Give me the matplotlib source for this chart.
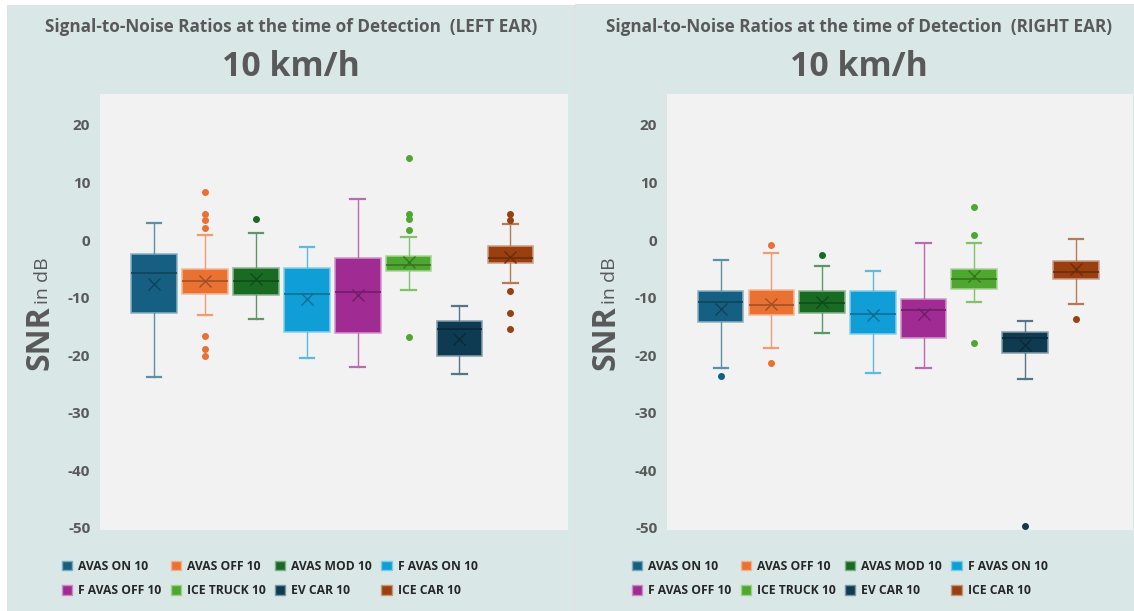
import matplotlib
matplotlib.use('Agg')
import matplotlib.pyplot as plt
import matplotlib.colors as mcolors
from matplotlib.patches import Rectangle, Patch

W, H = 1134, 611

series = ['AVAS ON 10', 'AVAS OFF 10', 'AVAS MOD 10', 'F AVAS ON 10',
          'F AVAS OFF 10', 'ICE TRUCK 10', 'EV CAR 10', 'ICE CAR 10']
colors = ['#156082', '#E97132', '#196B24', '#0F9ED5',
          '#A02B93', '#4EA72E', '#0E3A52', '#9A3F10']
yticks = [20, 10, 0, -10, -20, -30, -40, -50]

# left ear (dB)
left_whislo = [-23.7, -13.0, -13.7, -20.4, -22.1, -8.6, -23.3, -7.5]
left_q1 = [-12.6, -9.4, -9.5, -15.9, -16.2, -5.3, -20.1, -4.0]
left_med = [-5.8, -7.1, -7.1, -9.3, -9.0, -4.4, -15.5, -3.2]
left_q3 = [-2.4, -5.1, -4.8, -4.9, -3.1, -2.7, -14.0, -1.0]
left_whishi = [3.0, 0.9, 1.2, -1.3, 7.2, 0.6, -11.5, 2.7]
left_mean = [-7.7, -7.1, -6.8, -10.3, -9.5, -3.8, -17.2, -3.0]
left_fliers = [[], [8.3, 4.6, 3.4, 2.1, -16.7, -19.0, -20.2], [3.6], [], [],
               [14.3, 4.5, 3.6, 1.7, -16.9], [], [4.5, 3.5, -8.8, -12.7, -15.4]]

# right ear
right_whislo = [-22.3, -18.8, -16.1, -23.1, -22.3, -10.8, -24.1, -11.1]
right_q1 = [-14.3, -13.1, -12.7, -16.4, -17.0, -8.5, -19.7, -6.8]
right_med = [-10.8, -11.3, -10.9, -12.8, -12.2, -6.7, -17.1, -5.5]
right_q3 = [-8.9, -8.6, -8.9, -8.9, -10.3, -5.0, -15.9, -3.6]
right_whishi = [-3.4, -2.3, -4.6, -5.3, -0.5, -0.5, -14.0, 0.2]
right_mean = [-11.9, -11.1, -10.7, -13.1, -12.9, -6.3, -18.3, -5.0]
right_fliers = [[-23.6], [-0.8, -21.3], [-2.6], [], [], [5.7, 0.9, -17.8],
                [-49.6], [-13.7]]


def blend(c, other, t):
    a = mcolors.to_rgb(c)
    b = mcolors.to_rgb(other)
    return tuple(a[i] * (1 - t) + b[i] * t for i in range(3))


def fx(x):
    return x / W


def fy(y):
    return 1 - y / H


fig = plt.figure(figsize=(W / 100, H / 100), dpi=100)
fig.patch.set_facecolor('white')

panel_bg = '#d9e8e7'
fig.patches.append(Rectangle((fx(7), 0), fx(574) - fx(7), fy(5), transform=fig.transFigure,
                             facecolor=panel_bg, edgecolor='#dde3e3', lw=0.8, zorder=-2))
fig.patches.append(Rectangle((fx(575), 0), fx(1134) - fx(575), fy(4), transform=fig.transFigure,
                             facecolor=panel_bg, edgecolor='#dde3e3', lw=0.8, zorder=-2))

font = 'Open Sans'
grey = '#595959'


def draw_panel(x0, x1, ear, whislo, q1, med, q3, whishi, mean, fliers, cx, leg_x):
    ax = fig.add_axes([fx(x0), fy(530), fx(x1) - fx(x0), fy(94) - fy(530)])
    ax.set_facecolor('#f2f2f2')
    stats = []
    for i in range(len(series)):
        stats.append(dict(med=med[i], q1=q1[i], q3=q3[i], whislo=whislo[i],
                          whishi=whishi[i], mean=mean[i], fliers=fliers[i]))
    pos = list(range(len(series)))
    art = ax.bxp(stats, positions=pos, widths=0.9, capwidths=0.28, patch_artist=True,
                 showmeans=True, showfliers=True)
    for i, c in enumerate(colors):
        art['boxes'][i].set(facecolor=c, edgecolor=blend(c, 'white', 0.5), linewidth=1.1)
        art['medians'][i].set(color=blend(c, 'black', 0.3), linewidth=1.2)
        art['means'][i].set(marker='x', markeredgecolor=blend(c, 'black', 0.3),
                            markersize=9, markeredgewidth=1.0)
        for w in art['whiskers'][2 * i:2 * i + 2]:
            w.set(color=blend(c, 'white', 0.3), linewidth=1.0)
        for k in art['caps'][2 * i:2 * i + 2]:
            k.set(color=blend(c, 'white', 0.3), linewidth=1.6)
        art['fliers'][i].set(marker='o', markerfacecolor=c, markeredgecolor=c,
                             markersize=4)
    ax.set_xlim(-1.057, 8.13)
    ax.set_ylim(-50.35, 25.35)
    ax.set_yticks(yticks)
    ax.set_yticklabels([str(t) for t in yticks], fontfamily=font, fontweight='bold',
                       fontsize=11, color=grey)
    ax.tick_params(axis='y', length=0, pad=7)
    ax.set_xticks([])
    for s in ax.spines.values():
        s.set_visible(False)

    fig.text(fx(cx), fy(32), 'Signal-to-Noise Ratios at the time of Detection  (' + ear + ')',
             ha='center', va='baseline', fontfamily=font, fontweight='bold',
             fontsize=12.3, color=grey)
    fig.text(fx(cx), fy(76), '10 km/h', ha='center', va='baseline', fontfamily=font,
             fontweight='bold', fontsize=24.4, color=grey)
    fig.text(fx(x0 - 52), fy(370), 'SNR', rotation=90, rotation_mode='anchor',
             ha='left', va='baseline', fontfamily=font, fontweight='bold',
             fontsize=23, color=grey)
    fig.text(fx(x0 - 52), fy(304), 'in dB', rotation=90, rotation_mode='anchor',
             ha='left', va='baseline', fontfamily=font, fontsize=14, color=grey)

    handles = [Patch(facecolor=c, edgecolor=blend(c, 'white', 0.45)) for c in colors]
    order = [0, 4, 1, 5, 2, 6, 3, 7]
    fig.legend([handles[k] for k in order], [series[k] for k in order], ncol=4,
               loc='upper left', bbox_to_anchor=(fx(leg_x), fy(555)),
               frameon=False, handlelength=0.85, handleheight=0.85, handletextpad=0.5,
               columnspacing=0.75, labelspacing=0.95, borderaxespad=0,
               prop=dict(family=font, weight='bold', size=8.75), labelcolor='#262626')
    return ax


draw_panel(100, 568, 'LEFT EAR', left_whislo, left_q1, left_med, left_q3, left_whishi,
           left_mean, left_fliers, 291, 57)
draw_panel(667, 1133, 'RIGHT EAR', right_whislo, right_q1, right_med, right_q3,
           right_whishi, right_mean, right_fliers, 859, 627)

fig.savefig('out.png', dpi=100, facecolor=fig.get_facecolor())
